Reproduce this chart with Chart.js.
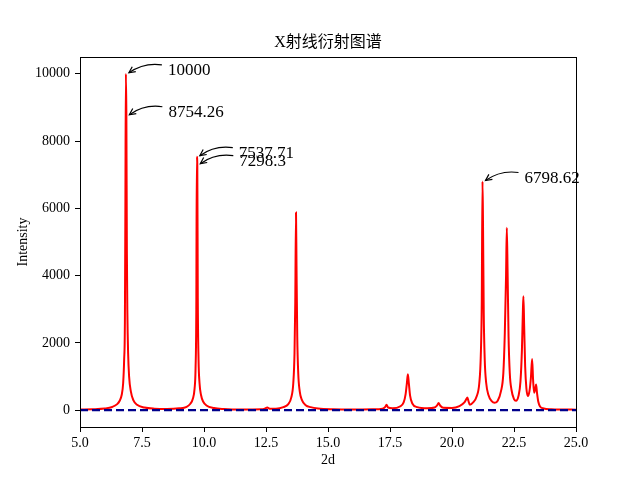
<!DOCTYPE html>
<html>
<head>
<meta charset="utf-8">
<title>X射线衍射图谱</title>
<script src="https://cdn.jsdelivr.net/npm/chart.js@4"></script>
<style>
  html, body { margin: 0; padding: 0; background: #fff; }
  canvas { display: block; }
</style>
</head>
<body>
<canvas id="xrdChart" width="640" height="480"></canvas>
<script>
// diffraction pattern
const twoTheta = [
    5.0, 5.5, 6.0, 6.3, 6.5, 6.6, 6.68, 6.74, 6.78, 6.81, 6.83, 6.85, 6.87, 6.89, 6.91, 6.94, 6.98, 7.05, 7.15, 7.3, 7.6, 8.0, 8.5,
    9.0, 9.3, 9.45, 9.55, 9.62, 9.66, 9.69, 9.71, 9.73, 9.75, 9.78, 9.82, 9.88, 9.97, 10.1, 10.4, 10.8, 11.5,
    12.3, 12.45, 12.55, 12.65, 12.9, 13.2, 13.4, 13.52, 13.6, 13.65, 13.68, 13.71, 13.73, 13.76, 13.8, 13.86, 13.95, 14.1, 14.3, 14.6, 15.2, 16.0,
    16.8, 17.2, 17.3, 17.36, 17.42, 17.6, 17.9, 18.05, 18.13, 18.18, 18.22, 18.26, 18.31, 18.4, 18.6, 19.0,
    19.3, 19.4, 19.46, 19.52, 19.65, 20.0, 20.3, 20.5, 20.58, 20.62, 20.66, 20.72, 20.85, 21.0, 21.1, 21.16, 21.2, 21.23, 21.25, 21.28,
    21.32, 21.38, 21.47, 21.6, 21.72, 21.85, 21.97, 22.07, 22.13, 22.18, 22.21, 22.24, 22.28, 22.33, 22.4, 22.5, 22.58,
    22.68, 22.76, 22.82, 22.86, 22.88, 22.91, 22.95, 23.0, 23.06, 23.12, 23.18, 23.23, 23.27, 23.31, 23.36, 23.39, 23.43,
    23.48, 23.55, 23.7, 24.0, 24.5, 25.0
];
const intensity = [
    20, 28, 50, 95, 180, 280, 450, 800, 1500, 2600, 6100, 10000, 8754.26, 4700, 2900, 1700, 1000, 560, 300, 160, 80, 45, 35,
    55, 100, 190, 340, 640, 1250, 3000, 7537.71, 7298.3, 3300, 1500, 800, 450, 250, 140, 65, 35, 20,
    25, 45, 80, 45, 45, 90, 180, 380, 800, 1700, 3200, 5880, 4300, 2200, 1100, 560, 300, 150, 90, 50, 25, 18,
    25, 45, 90, 160, 80, 60, 110, 230, 480, 800, 1070, 800, 430, 200, 90, 55,
    80, 140, 210, 140, 70, 65, 120, 230, 330, 380, 280, 160, 230, 420, 800, 1600, 3200, 6798.62, 5600, 2900,
    1500, 800, 450, 270, 220, 290, 550, 1100, 2300, 4000, 5420, 4200, 2200, 1100, 600, 330, 280,
    420, 850, 1800, 3000, 3390, 2500, 1300, 650, 420, 550, 950, 1520, 900, 520, 640, 765, 500,
    250, 110, 50, 28, 20, 15
];

// dashed zero line
const baseX = [5, 25];
const baseY = [0, 0];

const xTicks = [5, 7.5, 10, 12.5, 15, 17.5, 20, 22.5, 25];
const yTicks = [0, 2000, 4000, 6000, 8000, 10000];

// annotated points
const noteX = [6.85, 6.87, 9.71, 9.73, 21.23];
const noteY = [10000, 8754.26, 7537.71, 7298.3, 6798.62];
const noteText = ['10000', '8754.26', '7537.71', '7298.3', '6798.62'];

const FONT = '"Liberation Serif", "Noto Sans CJK SC", serif';

const framePlugin = {
    id: 'framePlugin',
    afterDraw(chart) {
        const ctx = chart.ctx;
        const area = chart.chartArea;
        const xs = chart.scales.x;
        const ys = chart.scales.y;
        ctx.save();

        // box round the plot
        ctx.strokeStyle = '#000';
        ctx.lineWidth = 1;
        ctx.strokeRect(area.left + 0.5, area.top + 0.5, area.right - area.left, area.bottom - area.top);

        // title
        ctx.fillStyle = '#000';
        ctx.font = '16px ' + FONT;
        ctx.textAlign = 'center';
        ctx.textBaseline = 'middle';
        ctx.fillText('X射线衍射图谱', (area.left + area.right) / 2, 43);

        // labels with curved arrows
        ctx.font = '17px ' + FONT;
        ctx.textAlign = 'left';
        ctx.textBaseline = 'alphabetic';
        ctx.lineWidth = 1.2;
        for (let i = 0; i < noteText.length; i++) {
            const px = xs.getPixelForValue(noteX[i]);
            const py = ys.getPixelForValue(noteY[i]);
            const tx = px + 42;
            ctx.fillText(noteText[i], tx, py + 1);

            const sx = tx - 6, sy = py - 9;
            const ex = px + 3, ey = py - 1;
            const mx = (sx + ex) / 2, my = (sy + ey) / 2;
            const cx = mx - 0.2 * (ey - sy);
            const cy = my + 0.2 * (ex - sx);
            ctx.beginPath();
            ctx.moveTo(sx, sy);
            ctx.quadraticCurveTo(cx, cy, ex, ey);
            ctx.stroke();

            const a = Math.atan2(ey - cy, ex - cx);
            const L = 7, w = 0.45;
            ctx.beginPath();
            ctx.moveTo(ex - L * Math.cos(a - w), ey - L * Math.sin(a - w));
            ctx.lineTo(ex, ey);
            ctx.lineTo(ex - L * Math.cos(a + w), ey - L * Math.sin(a + w));
            ctx.stroke();
        }
        ctx.restore();
    }
};

const ctx = document.getElementById('xrdChart').getContext('2d');

const chart = new Chart(ctx, {
    type: 'scatter',
    data: {
        datasets: [
            {
                label: 'zero',
                data: baseX.map((x, i) => ({ x: x, y: baseY[i] })),
                showLine: true,
                borderColor: '#00008b',
                borderWidth: 2.2,
                borderDash: [8, 4],
                pointRadius: 0
            },
            {
                label: 'XRD',
                data: twoTheta.map((x, i) => ({ x: x, y: intensity[i] })),
                showLine: true,
                borderColor: '#ff0000',
                borderWidth: 2,
                pointRadius: 0,
                cubicInterpolationMode: 'monotone'
            }
        ]
    },
    options: {
        responsive: false,
        animation: false,
        layout: {
            padding: { top: 57, right: 64, bottom: 0, left: 0 }
        },
        plugins: {
            legend: { display: false },
            tooltip: { enabled: false },
            title: { display: false }
        },
        scales: {
            x: {
                type: 'linear',
                min: 5,
                max: 25,
                afterBuildTicks: scale => { scale.ticks = xTicks.map(v => ({ value: v })); },
                afterFit: scale => { scale.height = 53; },
                ticks: {
                    color: '#000',
                    font: { family: FONT, size: 14 },
                    padding: 3,
                    maxRotation: 0,
                    autoSkip: false,
                    callback: v => Number(v).toFixed(1)
                },
                grid: { drawOnChartArea: false, drawTicks: true, tickLength: 5, color: '#000' },
                border: { color: '#000' },
                title: {
                    display: true,
                    text: '2d',
                    color: '#000',
                    font: { family: FONT, size: 14 },
                    padding: { top: 0, bottom: 11 }
                }
            },
            y: {
                type: 'linear',
                min: -500,
                max: 10500,
                afterBuildTicks: scale => { scale.ticks = yTicks.map(v => ({ value: v })); },
                afterFit: scale => { scale.width = 80; },
                ticks: {
                    color: '#000',
                    font: { family: FONT, size: 14 },
                    padding: 5,
                    autoSkip: false,
                    callback: v => String(v)
                },
                grid: { drawOnChartArea: false, drawTicks: true, tickLength: 5, color: '#000' },
                border: { color: '#000' },
                title: {
                    display: true,
                    text: 'Intensity',
                    color: '#000',
                    font: { family: FONT, size: 14 },
                    padding: { top: 15, bottom: 0 }
                }
            }
        }
    },
    plugins: [framePlugin]
});
</script>
</body>
</html>
